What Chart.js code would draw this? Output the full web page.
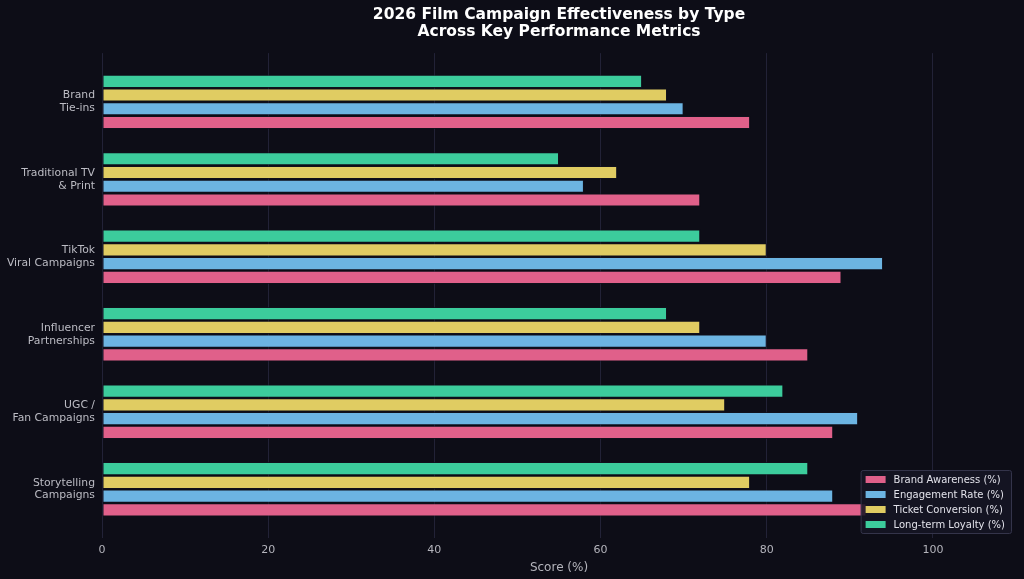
<!DOCTYPE html>
<html>
<head>
<meta charset="utf-8">
<script src="https://cdn.jsdelivr.net/npm/chart.js@4/dist/chart.umd.min.js"></script>
<style>
  html, body { margin: 0; padding: 0; background: #0d0d17; }
  #wrap { width: 1024px; height: 579px; }
</style>
</head>
<body>
<div id="wrap"><canvas id="campaignChart" width="1024" height="579"></canvas></div>
<script>
// Campaign types, bottom (0) to top (5)
const campaigns = [
    ['Storytelling', 'Campaigns'],
    ['UGC /', 'Fan Campaigns'],
    ['Influencer', 'Partnerships'],
    ['TikTok', 'Viral Campaigns'],
    ['Traditional TV', '& Print'],
    ['Brand', 'Tie-ins']
];
const brandAwareness = [92, 88, 85, 89, 72, 78];
const engagementRate = [88, 91, 80, 94, 58, 70];
const ticketConversion = [78, 75, 72, 80, 62, 68];
const loyalty = [85, 82, 68, 72, 55, 65];
const xTicks = [0, 20, 40, 60, 80, 100];

const colors = {
    awareness: '#e0608a',
    engagement: '#6cb4e2',
    ticket: '#e0cc62',
    loyalty: '#3ccc9c'
};

function makeSet(label, values, color) {
    return {
        label: label,
        data: values.map((v, i) => ({ x: v, y: i })),
        backgroundColor: color,
        borderColor: 'rgba(18,18,30,0.75)',
        borderWidth: 1,
        borderSkipped: false,
        barPercentage: 0.96,
        categoryPercentage: 0.71
    };
}

// legend drawn inside the plot, bottom right (awareness first)
const boxLegend = {
    id: 'boxLegend',
    afterDraw(chart) {
        const ctx = chart.ctx;
        const area = chart.chartArea;
        const sets = chart.data.datasets.slice().reverse();
        ctx.save();
        ctx.font = '10px "DejaVu Sans"';
        let textW = 0;
        sets.forEach(s => { textW = Math.max(textW, ctx.measureText(s.label).width); });
        const w = 32 + textW + 7;
        const h = sets.length * 15 + 3;
        const x = area.right - 5 - w;
        const y = area.bottom - 5 - h;
        ctx.fillStyle = 'rgba(22,22,36,0.88)';
        ctx.strokeStyle = '#34344a';
        ctx.lineWidth = 1;
        ctx.beginPath();
        ctx.roundRect(x + 0.5, y + 0.5, w, h, 2);
        ctx.fill();
        ctx.stroke();
        sets.forEach((s, i) => {
            const cy = y + 9 + i * 15;
            ctx.fillStyle = s.backgroundColor;
            ctx.fillRect(x + 5, cy - 3, 20, 7);
            ctx.fillStyle = '#e2e2ea';
            ctx.textBaseline = 'middle';
            ctx.fillText(s.label, x + 33, cy + 1);
        });
        ctx.restore();
    }
};

const ctx = document.getElementById('campaignChart').getContext('2d');
new Chart(ctx, {
    type: 'bar',
    data: {
        // top-to-bottom within each group: loyalty, ticket, engagement, awareness
        datasets: [
            makeSet('Long-term Loyalty (%)', loyalty, colors.loyalty),
            makeSet('Ticket Conversion (%)', ticketConversion, colors.ticket),
            makeSet('Engagement Rate (%)', engagementRate, colors.engagement),
            makeSet('Brand Awareness (%)', brandAwareness, colors.awareness)
        ]
    },
    options: {
        indexAxis: 'y',
        responsive: false,
        animation: false,
        layout: { padding: { left: 0, right: 8, top: 6, bottom: 0 } },
        plugins: {
            legend: { display: false },
            tooltip: { enabled: false },
            title: {
                display: true,
                fullSize: false,
                text: ['2026 Film Campaign Effectiveness by Type', 'Across Key Performance Metrics'],
                color: '#ffffff',
                font: { family: 'DejaVu Sans', size: 15.5, weight: 'bold', lineHeight: 1.1 },
                padding: { top: 0, bottom: 13 }
            }
        },
        scales: {
            x: {
                type: 'linear',
                min: 0,
                max: 110,
                ticks: {
                    stepSize: 20,
                    color: '#b4b4bc',
                    font: { family: 'DejaVu Sans', size: 11 },
                    padding: 6
                },
                afterBuildTicks(scale) {
                    scale.ticks = scale.ticks.filter(t => xTicks.includes(t.value));
                },
                afterFit(scale) { scale.height = 41; },
                grid: { color: 'rgba(60,60,95,0.45)', drawTicks: false },
                border: { display: false },
                title: {
                    display: true,
                    text: 'Score (%)',
                    color: '#b4b4bc',
                    font: { family: 'DejaVu Sans', size: 12 },
                    padding: { top: 4 }
                }
            },
            y: {
                type: 'linear',
                offset: false,
                min: -0.63,
                max: 5.63,
                ticks: {
                    stepSize: 1,
                    color: '#bcbcc4',
                    font: { family: 'DejaVu Sans', size: 10.8 },
                    padding: 7,
                    callback: v => campaigns[v]
                },
                afterBuildTicks(scale) {
                    scale.ticks = campaigns.map((c, i) => ({ value: i }));
                },
                afterFit(scale) { scale.width = 102; },
                grid: { display: false, drawTicks: false, offset: false },
                border: { display: false }
            }
        }
    },
    plugins: [boxLegend]
});
</script>
</body>
</html>
